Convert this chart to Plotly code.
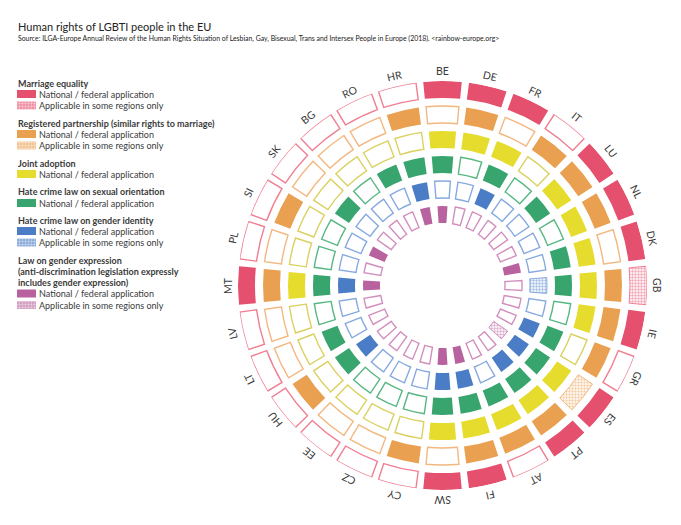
import math
import plotly.graph_objects as go

countries = ['BE', 'DE', 'FR', 'IT', 'LU', 'NL', 'DK', 'GB', 'IE', 'GR', 'ES', 'PT', 'AT', 'FI',
             'SW', 'CY', 'CZ', 'EE', 'HU', 'LT', 'LV', 'MT', 'PL', 'SI', 'SK', 'BG', 'RO', 'HR']

# 0 = none, 1 = national / federal, 2 = some regions only
marriage =    [1, 1, 1, 0, 1, 1, 1, 2, 1, 0, 1, 1, 0, 1, 1, 0, 0, 0, 0, 0, 0, 1, 0, 0, 0, 0, 0, 0]
partnership = [0, 1, 0, 1, 1, 1, 0, 1, 1, 1, 2, 1, 1, 1, 0, 1, 0, 0, 1, 0, 0, 1, 0, 1, 0, 0, 0, 1]
adoption =    [1, 1, 1, 0, 1, 1, 1, 1, 1, 0, 1, 1, 1, 1, 1, 0, 0, 0, 0, 0, 0, 1, 0, 0, 0, 0, 0, 0]
hate_sexual = [1, 0, 1, 0, 1, 0, 1, 1, 0, 1, 1, 1, 1, 1, 1, 0, 0, 0, 1, 1, 0, 1, 0, 0, 1, 0, 1, 1]
hate_gender = [0, 0, 1, 0, 0, 0, 0, 2, 0, 1, 1, 1, 0, 1, 1, 0, 0, 0, 1, 0, 0, 1, 0, 0, 0, 0, 0, 1]
expression =  [1, 0, 0, 0, 0, 0, 1, 0, 0, 0, 2, 0, 0, 1, 1, 0, 0, 0, 0, 0, 0, 1, 0, 1, 0, 0, 0, 1]

W, H = 681, 525
CX, CY, R = 442.5, 285.5, 204.5
FONT = 'Lato'
TXT = '#3a3a3a'
N = len(countries)
STEP = 360 / N
BAR_H = 17
GAP_PX = 7

rings = [
    ('Marriage equality', marriage, 187.5, '#E5506F', '#F07F93'),
    ('Registered partnership', partnership, 162.5, '#E9A050', '#F3B77F'),
    ('Joint adoption', adoption, 137.5, '#E6DC2E', '#DAD160'),
    ('Hate crime law on sexual orientation', hate_sexual, 112.5, '#38A56E', '#58B883'),
    ('Hate crime law on gender identity', hate_gender, 87.5, '#4A7DC6', '#86A9E0'),
    ('Law on gender expression', expression, 62.5, '#B8639F', '#D28FBD'),
]

fig = go.Figure()

for name, vals, base, col, pale in rings:
    mid = base + BAR_H / 2
    wid = STEP - GAP_PX / mid * 57.296
    for state in [0, 1, 2]:
        idx = [i for i, v in enumerate(vals) if v == state]
        if not idx:
            continue
        if state == 0:
            marker = dict(color='white', line=dict(color=pale, width=1.4))
        elif state == 1:
            marker = dict(color=col, line=dict(width=0))
        else:
            marker = dict(color='white', line=dict(color=pale, width=1),
                          pattern=dict(shape='.', fgcolor=col, bgcolor='white', size=3, solidity=0.5, fgopacity=0.5))
        fig.add_trace(go.Barpolar(
            theta=[i * STEP for i in idx],
            r=[BAR_H] * len(idx),
            base=[base] * len(idx),
            width=[wid] * len(idx),
            marker=marker,
            name=name,
            text=[countries[i] for i in idx],
            hoverinfo='text+name',
            showlegend=False,
        ))

# legend swatches go on a hidden pixel-sized cartesian layer
legend = [
    ('<b>Marriage equality</b>', 83, None),
    ('National / federal application', 94, (0, 1)),
    ('Applicable in some regions only', 105.5, (0, 2)),
    ('<b>Registered partnership (similar rights to marriage)</b>', 123, None),
    ('National / federal application', 134, (1, 1)),
    ('Applicable in some regions only', 145.5, (1, 2)),
    ('<b>Joint adoption</b>', 163, None),
    ('National / federal application', 174, (2, 1)),
    ('<b>Hate crime law on sexual orientation</b>', 191, None),
    ('National / federal application', 203, (3, 1)),
    ('<b>Hate crime law on gender identity</b>', 220, None),
    ('National / federal application', 231, (4, 1)),
    ('Applicable in some regions only', 242.5, (4, 2)),
    ('<b>Law on gender expression</b>', 260, None),
    ('<b>(anti-discrimination legislation expressly</b>', 271, None),
    ('<b>includes gender expression)</b>', 282, None),
    ('National / federal application', 293.5, (5, 1)),
    ('Applicable in some regions only', 305, (5, 2)),
]

annots = []
for label, y, swatch in legend:
    annots.append(dict(x=37 if swatch else 15.5, y=y, xref='x', yref='y', text=label, showarrow=False,
                       xanchor='left', yanchor='middle', font=dict(family=FONT, size=9, color=TXT)))
    if swatch:
        ring, state = swatch
        col = rings[ring][3]
        marker = dict(color=col, line=dict(width=0))
        if state == 2:
            marker = dict(color=col, opacity=0.7, line=dict(width=0),
                          pattern=dict(shape='.', fgcolor='white', bgcolor=col, size=3, solidity=0.5))
        fig.add_trace(go.Bar(x=[19], base=[17], y=[y], width=[8], orientation='h', marker=marker,
                             hoverinfo='skip', showlegend=False, xaxis='x', yaxis='y'))

annots.append(dict(x=15.5, y=26.5, xref='x', yref='y', text='Human rights of LGBTI people in the EU', showarrow=False,
                   xanchor='left', yanchor='middle', font=dict(family=FONT, size=11, color='#222')))
annots.append(dict(x=15.5, y=38.5, xref='x', yref='y',
                   text='Source: ILGA-Europe Annual Review of the Human Rights Situation of Lesbian, Gay, Bisexual, Trans and Intersex People in Europe (2018). &lt;rainbow-europe.org&gt;',
                   showarrow=False, xanchor='left', yanchor='middle', font=dict(family=FONT, size=6.9, color='#222')))

for i, c in enumerate(countries):
    a = math.radians(i * STEP)
    annots.append(dict(x=CX + 215 * math.sin(a), y=CY - 215 * math.cos(a), xref='x', yref='y', text=c,
                       textangle=i * STEP if i * STEP <= 180 else i * STEP - 360, showarrow=False,
                       xanchor='center', yanchor='middle', font=dict(family=FONT, size=10.5, color=TXT)))

fig.update_layout(
    width=W, height=H,
    margin=dict(l=0, r=0, t=0, b=0),
    paper_bgcolor='white',
    plot_bgcolor='rgba(0,0,0,0)',
    barmode='overlay',
    showlegend=False,
    xaxis=dict(range=[0, W], visible=False, domain=[0, 1], fixedrange=True),
    yaxis=dict(range=[H, 0], visible=False, domain=[0, 1], fixedrange=True),
    polar=dict(
        domain=dict(x=[(CX - R) / W, (CX + R) / W], y=[1 - (CY + R) / H, 1 - (CY - R) / H]),
        bgcolor='rgba(0,0,0,0)',
        barmode='overlay',
        radialaxis=dict(range=[0, R], visible=False),
        angularaxis=dict(direction='clockwise', rotation=90, visible=False),
    ),
    annotations=annots,
)

# page body has a default margin, drop it so the figure sits at 0,0
fig.write_html("out.html", config=dict(displayModeBar=False),
               post_script="document.body.style.margin='0';")
